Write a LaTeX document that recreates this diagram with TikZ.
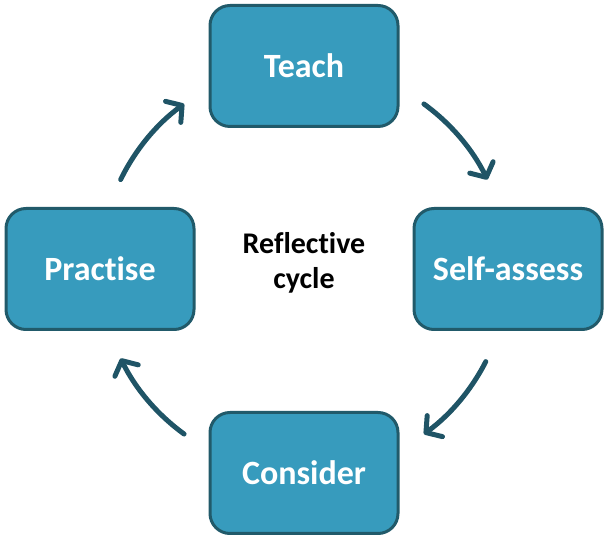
\documentclass[tikz,border=0pt]{standalone}
\usepackage{fontspec}
\setmainfont[Ligatures=NoCommon]{Carlito}
\usetikzlibrary{arrows.meta,calc}
\definecolor{boxfill}{HTML}{379BBD}
\definecolor{boxline}{HTML}{215A6A}
\definecolor{arrowc}{HTML}{1F5466}
\begin{document}
\begin{tikzpicture}[x=1pt,y=1pt,
  stagebox/.style={draw=boxline, line width=3pt, fill=boxfill, rounded corners=20pt,
    minimum width=188pt, minimum height=121pt, inner sep=0pt,
    text=white, font=\fontsize{34}{38}\selectfont\bfseries},
  cyclearrow/.style={draw=arrowc, line width=5pt, line cap=round,
    -{Straight Barb[length=11pt,width=26pt,line width=5pt,round]}}]
\useasboundingbox (0,0) rectangle (607,540);
\node[stagebox] (teach) at (304,474) {Teach};
\node[stagebox] (self) at (508,271) {Self-assess};
\node[stagebox] (consider) at (304,67) {Consider};
\node[stagebox] (practise) at (100,271) {Practise};
\node[align=center, font=\fontsize{30}{35}\selectfont\bfseries] (centre) at (304,277) {Reflective\\cycle};
\coordinate (c) at (304,271);
\coordinate (a1) at ($(c)+(54:204pt)$);
\coordinate (a2) at ($(c)+(-27:204pt)$);
\coordinate (a3) at ($(c)+(234:204pt)$);
\coordinate (a4) at ($(c)+(154:204pt)$);
\draw[cyclearrow] (a1) arc[start angle=54, end angle=26, radius=204pt];
\draw[cyclearrow] (a2) arc[start angle=-27, end angle=-54, radius=204pt];
\draw[cyclearrow] (a3) arc[start angle=234, end angle=206, radius=204pt];
\draw[cyclearrow] (a4) arc[start angle=154, end angle=126, radius=204pt];
\end{tikzpicture}
\end{document}
